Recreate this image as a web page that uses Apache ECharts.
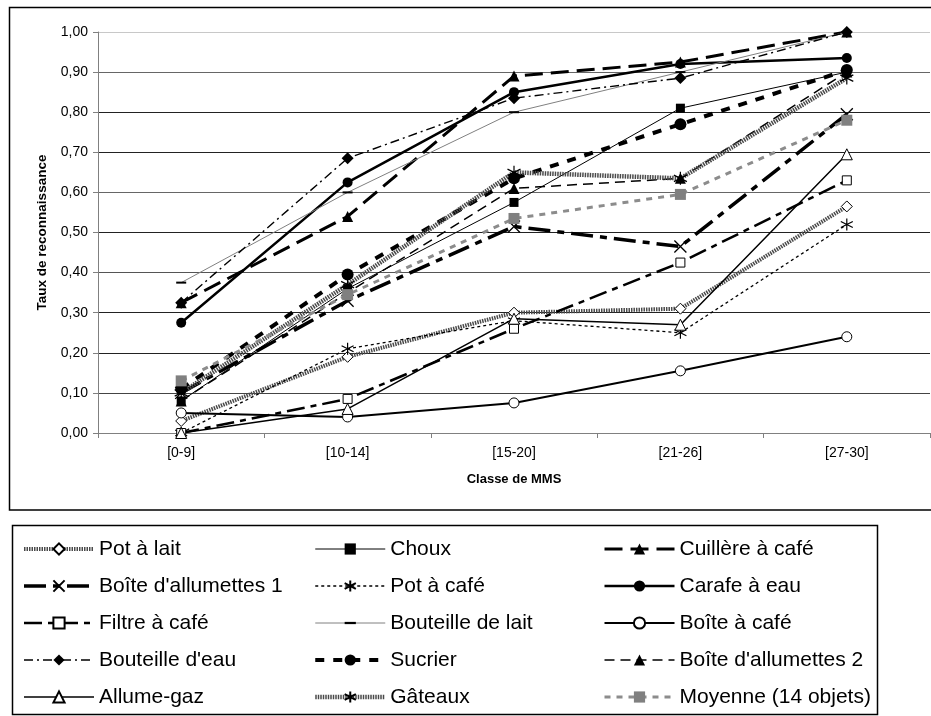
<!DOCTYPE html>
<html>
<head>
<meta charset="utf-8">
<style>
  html, body { margin: 0; padding: 0; background: #fff; }
  #chart { width: 931px; height: 716px; }
</style>
<script src="https://cdn.jsdelivr.net/npm/echarts@6/dist/echarts.min.js"></script>
</head>
<body>
<div id="chart"></div>
<script>
// Classes de MMS (axe des abscisses)
var categories = ['[0-9]', '[10-14]', '[15-20]', '[21-26]', '[27-30]'];

// Graduations de l'axe des ordonnées
var yTicks = [0, 0.1, 0.2, 0.3, 0.4, 0.5, 0.6, 0.7, 0.8, 0.9, 1.0];

// Taux de reconnaissance par objet et par classe de MMS
var potLait        = [0.03, 0.19, 0.30, 0.31, 0.565];
var choux          = [0.08, 0.36, 0.575, 0.81, 0.90];
var cuillereCafe   = [0.325, 0.54, 0.89, 0.925, 1.00];
var allumettes1    = [0.10, 0.33, 0.515, 0.465, 0.795];
var potCafe        = [0.00, 0.21, 0.28, 0.25, 0.52];
var carafeEau      = [0.275, 0.625, 0.85, 0.92, 0.935];
var filtreCafe     = [0.00, 0.085, 0.26, 0.425, 0.63];
var bouteilleLait  = [0.375, 0.60, 0.80, 0.90, 1.00];
var boiteCafe      = [0.05, 0.04, 0.075, 0.155, 0.24];
var bouteilleEau   = [0.325, 0.685, 0.835, 0.885, 1.00];
var sucrier        = [0.11, 0.395, 0.635, 0.77, 0.905];
var allumettes2    = [0.08, 0.35, 0.61, 0.635, 0.90];
var allumeGaz      = [0.00, 0.06, 0.285, 0.27, 0.695];
var gateaux        = [0.10, 0.37, 0.65, 0.635, 0.885];
var moyenne        = [0.13, 0.345, 0.535, 0.595, 0.78];

var FONT = "'Liberation Sans', Arial, sans-serif";

// Marqueurs dessinés en trait
var SYM_X = 'path://M0,0L10,10M10,0L0,10';
var SYM_STAR = 'path://M5,0L5,10M0.7,2.5L9.3,7.5M0.7,7.5L9.3,2.5';
// Petit tiret horizontal centré dans un cadre carré
var SYM_BAR = 'path://M0,0L0,0M0,2.4L6,2.4L6,3.6L0,3.6ZM6,6L6,6';

function serie(name, data, line, marker) {
  return {
    name: name,
    type: 'line',
    data: data,
    symbol: marker.symbol,
    symbolSize: marker.size,
    showAllSymbol: true,
    lineStyle: line,
    itemStyle: {
      color: marker.fill,
      borderColor: marker.stroke || marker.fill,
      borderWidth: marker.bw || 0
    },
    emphasis: { disabled: true },
    animation: false,
    z: marker.z || 2
  };
}

var series = [
  serie('Pot à lait', potLait,
    { color: '#4a4a4a', width: 4, type: [1.5, 1] },
    { symbol: 'diamond', size: 11, fill: '#fff', stroke: '#000', bw: 1 }),
  serie('Choux', choux,
    { color: '#000', width: 1, type: 'solid' },
    { symbol: 'rect', size: 9, fill: '#000' }),
  serie('Cuillère à café', cuillereCafe,
    { color: '#000', width: 3, type: [18, 8] },
    { symbol: 'triangle', size: 11, fill: '#000' }),
  serie("Boîte d'allumettes 1", allumettes1,
    { color: '#000', width: 3.5, type: [22, 7, 7, 7] },
    { symbol: SYM_X, size: 12, fill: 'none', stroke: '#000', bw: 1.3 }),
  serie('Pot à café', potCafe,
    { color: '#000', width: 1.3, type: [3, 3] },
    { symbol: SYM_STAR, size: 12, fill: 'none', stroke: '#000', bw: 1.2 }),
  serie('Carafe à eau', carafeEau,
    { color: '#000', width: 2.5, type: 'solid' },
    { symbol: 'circle', size: 10, fill: '#000' }),
  serie('Filtre à café', filtreCafe,
    { color: '#000', width: 2.5, type: [18, 6, 6, 6] },
    { symbol: 'rect', size: 9, fill: '#fff', stroke: '#000', bw: 1 }),
  serie('Bouteille de lait', bouteilleLait,
    { color: '#808080', width: 1, type: 'solid' },
    { symbol: SYM_BAR, size: 10, fill: '#000' }),
  serie('Boîte à café', boiteCafe,
    { color: '#000', width: 2, type: 'solid' },
    { symbol: 'circle', size: 10, fill: '#fff', stroke: '#000', bw: 1 }),
  serie("Bouteille d'eau", bouteilleEau,
    { color: '#000', width: 1.4, type: [9, 4, 2, 4] },
    { symbol: 'diamond', size: 12, fill: '#000' }),
  serie('Sucrier', sucrier,
    { color: '#000', width: 4, type: [9, 9] },
    { symbol: 'circle', size: 12, fill: '#000' }),
  serie("Boîte d'allumettes 2", allumettes2,
    { color: '#000', width: 1.5, type: [10, 6] },
    { symbol: 'triangle', size: 11, fill: '#000' }),
  serie('Allume-gaz', allumeGaz,
    { color: '#000', width: 1.5, type: 'solid' },
    { symbol: 'triangle', size: 11, fill: '#fff', stroke: '#000', bw: 1 }),
  serie('Gâteaux', gateaux,
    { color: '#4a4a4a', width: 4.5, type: [1.5, 1] },
    { symbol: SYM_STAR, size: 13, fill: 'none', stroke: '#000', bw: 1.2 }),
  serie('Moyenne (14 objets)', moyenne,
    { color: '#8c8c8c', width: 3, type: [6, 6] },
    { symbol: 'rect', size: 11, fill: '#808080', z: 3 })
];

// Légende en trois colonnes, lue ligne par ligne
var legendCols = [
  ['Pot à lait', "Boîte d'allumettes 1", 'Filtre à café', "Bouteille d'eau", 'Allume-gaz'],
  ['Choux', 'Pot à café', 'Bouteille de lait', 'Sucrier', 'Gâteaux'],
  ['Cuillère à café', 'Carafe à eau', 'Boîte à café', "Boîte d'allumettes 2", 'Moyenne (14 objets)']
];
var legendLeft = [22, 313, 603];

var legends = legendCols.map(function (names, i) {
  return {
    data: names,
    orient: 'vertical',
    left: legendLeft[i],
    top: 538,
    itemWidth: 70,
    itemHeight: 14,
    itemGap: 15,
    selectedMode: false,
    padding: 0,
    lineStyle: { width: 'inherit', type: 'inherit', color: 'inherit' },
    textStyle: { fontFamily: FONT, fontSize: 21, color: '#000', lineHeight: 22, padding: [0, 0, 0, 0] }
  };
});

var splitColors = ['#555', '#444', '#222', '#222', '#555', '#222', '#666', '#222', '#222', '#666', '#c8c8c8'];

var chart = echarts.init(document.getElementById('chart'), null, { renderer: 'canvas' });
chart.setOption({
  backgroundColor: '#fff',
  animation: false,
  textStyle: { fontFamily: FONT },
  grid: { left: 98, right: 1, top: 32, bottom: 283 },
  legend: legends,
  xAxis: {
    type: 'category',
    data: categories,
    boundaryGap: true,
    name: 'Classe de MMS',
    nameLocation: 'middle',
    nameGap: 40,
    nameTextStyle: { fontFamily: FONT, fontSize: 13, fontWeight: 'bold', color: '#000' },
    axisLine: { lineStyle: { color: '#808080', width: 1 } },
    axisTick: { show: true, length: 5, alignWithLabel: false, lineStyle: { color: '#808080' } },
    axisLabel: { fontFamily: FONT, fontSize: 14, color: '#000', margin: 13 },
    splitLine: { show: false }
  },
  yAxis: {
    type: 'value',
    min: yTicks[0],
    max: yTicks[yTicks.length - 1],
    interval: 0.1,
    name: 'Taux de reconnaissance',
    nameLocation: 'middle',
    nameGap: 49,
    nameTextStyle: { fontFamily: FONT, fontSize: 13.5, fontWeight: 'bold', color: '#000' },
    axisLine: { show: true, lineStyle: { color: '#808080', width: 1 } },
    axisTick: { show: true, length: 5, lineStyle: { color: '#808080' } },
    axisLabel: {
      fontFamily: FONT, fontSize: 14, color: '#000', margin: 10,
      formatter: function (v) { return v.toFixed(2).replace('.', ','); }
    },
    splitLine: { show: true, lineStyle: { color: splitColors, width: 1 } }
  },
  graphic: [
    {
      type: 'rect', silent: true, z: -1,
      shape: { x: 9.5, y: 7.5, width: 935, height: 502.5 },
      style: { fill: 'none', stroke: '#000', lineWidth: 1.5 }
    },
    {
      type: 'rect', silent: true, z: -1,
      shape: { x: 12.5, y: 525.5, width: 865, height: 189 },
      style: { fill: 'none', stroke: '#000', lineWidth: 1.5 }
    }
  ],
  series: series
});
</script>
</body>
</html>
